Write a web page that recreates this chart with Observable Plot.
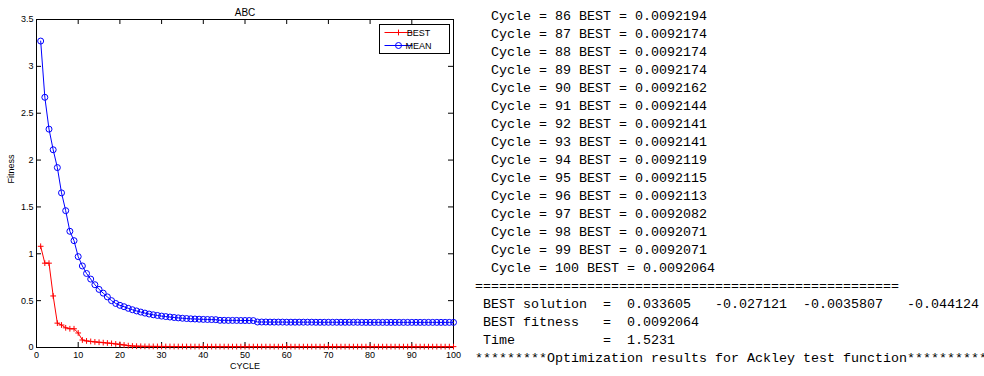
<!DOCTYPE html>
<html><head><meta charset="utf-8">
<script src="https://cdn.jsdelivr.net/npm/d3@7"></script>
<script src="https://cdn.jsdelivr.net/npm/@observablehq/plot@0.6"></script>
<style>
html,body{margin:0;padding:0;background:#fff;}
#wrap{position:relative;width:984px;height:376px;overflow:hidden;background:#fff;}
#chart{position:absolute;left:0;top:0;}
#console{position:absolute;left:475px;top:8px;margin:0;font-family:"Liberation Mono","Courier New",monospace;font-size:13.333px;line-height:18px;white-space:pre;color:#000;}
</style></head><body>
<div id="wrap"><div id="chart"></div><pre id="console"></pre></div>
<script>
// ---- data ----
const cycles = d3.range(1, 101);
const meanValues = [
  3.27, 2.67, 2.33, 2.11, 1.92, 1.65, 1.46, 1.24, 1.14, 0.97,
  0.87, 0.79, 0.73, 0.67, 0.62, 0.58, 0.54, 0.50, 0.47, 0.45,
  0.435, 0.418, 0.403, 0.39, 0.378, 0.367, 0.357, 0.349, 0.342, 0.335,
  0.33, 0.325, 0.32, 0.316, 0.312, 0.309, 0.306, 0.304, 0.302, 0.30,
  0.299, 0.298, 0.297, 0.29, 0.29, 0.289, 0.289, 0.289, 0.288, 0.288,
  0.288, 0.287, 0.272, 0.272, 0.272, 0.271, 0.271, 0.271, 0.271, 0.270,
  0.270, 0.270, 0.270, 0.270, 0.270, 0.270, 0.269, 0.269, 0.269, 0.269,
  0.269, 0.269, 0.269, 0.269, 0.269, 0.269, 0.269, 0.268, 0.268, 0.268,
  0.268, 0.268, 0.268, 0.268, 0.268, 0.268, 0.268, 0.268, 0.268, 0.268,
  0.268, 0.268, 0.268, 0.268, 0.268, 0.268, 0.268, 0.268, 0.268, 0.268
];
const bestValues = [
  1.08, 0.90, 0.90, 0.55, 0.26, 0.24, 0.21, 0.20, 0.20, 0.155,
  0.08, 0.07, 0.065, 0.06, 0.056, 0.052, 0.048, 0.044, 0.038, 0.033,
  0.027, 0.02, 0.016, 0.014, 0.013, 0.012, 0.0118, 0.0115, 0.0113, 0.0111,
  0.0109, 0.0108, 0.0106, 0.0105, 0.0104, 0.0103, 0.0102, 0.0101, 0.0100, 0.0099,
  0.0099, 0.0098, 0.0098, 0.0097, 0.0097, 0.0097, 0.0096, 0.0096, 0.0096, 0.0095,
  0.0095, 0.0095, 0.0095, 0.0094, 0.0094, 0.0094, 0.0094, 0.0094, 0.0093, 0.0093,
  0.0093, 0.0093, 0.0093, 0.0093, 0.0093, 0.0093, 0.0093, 0.0093, 0.00925, 0.00925,
  0.00925, 0.00925, 0.00925, 0.00925, 0.00924, 0.00924, 0.00924, 0.00923, 0.00923, 0.00923,
  0.00923, 0.00922, 0.00922, 0.00922, 0.00922,
  0.0092194, 0.0092174, 0.0092174, 0.0092174, 0.0092162,
  0.0092144, 0.0092141, 0.0092141, 0.0092119, 0.0092115,
  0.0092113, 0.0092082, 0.0092071, 0.0092071, 0.0092064
];
const xTicks = [0, 10, 20, 30, 40, 50, 60, 70, 80, 90, 100];
const yTicks = [0, 0.5, 1, 1.5, 2, 2.5, 3, 3.5];
const seriesNames = ["BEST", "MEAN"];
const seriesColors = ["#ff0000", "#0000ff"];
const titleText = "ABC";
const xLabel = "CYCLE";
const yLabel = "Fitness";
const solution = [0.033605, -0.027121, -0.0035807, -0.044124];
const bestFitness = 0.0092064;
const elapsed = 1.5231;
const footer = "*********Optimization results for Ackley test function**********";

// ---- chart ----
const W = 465, H = 376, mL = 36, mR = 12, mT = 19, mB = 29;
const innerW = W - mL - mR, innerH = H - mT - mB, tk = 5;
const data = cycles.map((c, i) => ({cycle: c, best: bestValues[i], mean: meanValues[i]}));

const plot = Plot.plot({
  width: W, height: H,
  marginLeft: mL, marginRight: mR, marginTop: mT, marginBottom: mB,
  style: {fontFamily: "'Liberation Sans', Arial, sans-serif", fontSize: "9px", color: "#000", background: "#fff", overflow: "visible"},
  x: {domain: [0, 100]},
  y: {domain: [0, 3.5]},
  marks: [
    Plot.frame({stroke: "#000"}),
    Plot.tickY(yTicks, {y: d => d, stroke: "#000", insetRight: innerW - tk}),
    Plot.tickY(yTicks, {y: d => d, stroke: "#000", insetLeft: innerW - tk}),
    Plot.tickX(xTicks, {x: d => d, stroke: "#000", insetBottom: innerH - tk}),
    Plot.tickX(xTicks, {x: d => d, stroke: "#000", insetTop: innerH - tk}),
    Plot.axisY(yTicks, {tickSize: 0, tickPadding: 3, tickFormat: d => String(d), label: null, fill: "#000"}),
    Plot.axisX(xTicks, {tickSize: 0, tickPadding: 4, tickFormat: d => String(d), label: null, fill: "#000"}),
    Plot.line(data, {x: "cycle", y: "best", stroke: seriesColors[0], strokeWidth: 1}),
    Plot.dot(data, {x: "cycle", y: "best", stroke: seriesColors[0], symbol: "plus", r: 2, strokeWidth: 1}),
    Plot.line(data, {x: "cycle", y: "mean", stroke: seriesColors[1], strokeWidth: 1}),
    Plot.dot(data, {x: "cycle", y: "mean", stroke: seriesColors[1], symbol: "circle", r: 3, fill: "none", strokeWidth: 1}),
    Plot.text([titleText], {frameAnchor: "top", dy: -11, text: d => d, fontSize: 10, fill: "#000"}),
    Plot.text([xLabel], {frameAnchor: "bottom", dy: 21, text: d => d, fill: "#000"}),
    Plot.text([yLabel], {frameAnchor: "left", dx: -25, rotate: -90, text: d => d, fill: "#000"})
  ]
});
document.getElementById("chart").appendChild(plot);

// legend (MATLAB style box, top-right inside axes)
const svg = d3.select(plot);
const lg = svg.append("g").attr("transform", "translate(379.5,24.5)");
lg.append("rect").attr("width", 70).attr("height", 29).attr("fill", "#fff").attr("stroke", "#000");
seriesNames.forEach((name, i) => {
  const y = 8 + i * 13;
  lg.append("line").attr("x1", 5).attr("x2", 33).attr("y1", y).attr("y2", y)
    .attr("stroke", seriesColors[i]).attr("stroke-width", 1);
  if (i === 0) {
    lg.append("path").attr("d", d3.symbol(d3.symbolPlus, Math.PI * 4)())
      .attr("transform", `translate(19,${y})`).attr("stroke", seriesColors[i]).attr("fill", "none");
  } else {
    lg.append("circle").attr("cx", 19).attr("cy", y).attr("r", 3)
      .attr("stroke", seriesColors[i]).attr("fill", "none");
  }
  lg.append("text").attr("x", 39).attr("y", y).attr("dy", "0.35em").text(name)
    .attr("fill", "#000").style("font-size", "9px");
});

// ---- console text ----
const lines = cycles.slice(85).map((c) => `  Cycle = ${c} BEST = ${bestValues[c - 1]}`);
lines.push("=".repeat(53));
lines.push(` BEST solution  =  ${solution[0]}   ${solution[1]}  ${solution[2]}   ${solution[3]}`);
lines.push(` BEST fitness   =  ${bestFitness}`);
lines.push(` Time           =  ${elapsed}`);
lines.push(footer);
document.getElementById("console").textContent = lines.join("\n");
</script>
</body></html>
